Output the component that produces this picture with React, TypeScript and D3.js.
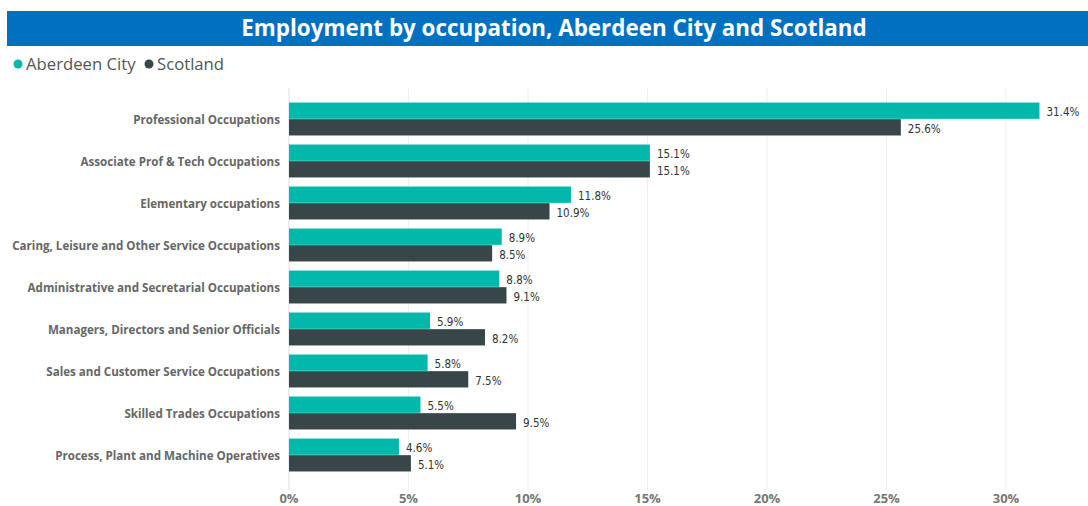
import React from "react";
import * as d3 from "d3";

const categories = [
  "Professional Occupations",
  "Associate Prof & Tech Occupations",
  "Elementary occupations",
  "Caring, Leisure and Other Service Occupations",
  "Administrative and Secretarial Occupations",
  "Managers, Directors and Senior Officials",
  "Sales and Customer Service Occupations",
  "Skilled Trades Occupations",
  "Process, Plant and Machine Operatives",
];
const aberdeen = [31.4, 15.1, 11.8, 8.9, 8.8, 5.9, 5.8, 5.5, 4.6];
const scotland = [25.6, 15.1, 10.9, 8.5, 9.1, 8.2, 7.5, 9.5, 5.1];
const seriesNames = ["Aberdeen City", "Scotland"];
const seriesColors = ["#01B8AA", "#374649"];
const xTicks = [0, 5, 10, 15, 20, 25, 30];

const W = 1088;
const H = 506;

export default function App() {
  const x = d3.scaleLinear().domain([0, 30]).range([289, 1006]);
  const y = d3.scaleBand<string>().domain(categories).range([98, 476]).paddingInner(0.2).paddingOuter(0.1);
  const sub = d3.scaleBand<string>().domain(seriesNames).range([0, y.bandwidth()]).padding(0.02);
  const series = [aberdeen, scotland];
  const labelFont = "'DejaVu Sans Condensed', 'Roboto Condensed', Roboto, sans-serif";
  return (
    <svg width={W} height={H} style={{ position: "absolute", left: 0, top: 0, background: "#fff" }}>
      <rect x={7} y={11} width={1081} height={35} fill="#0070C0" />
      <text x={554} y={36} textAnchor="middle" fill="#fff" fontFamily="'Open Sans', sans-serif" fontWeight={700} fontSize={22.4}>
        Employment by occupation, Aberdeen City and Scotland
      </text>
      {/* legend */}
      <circle cx={18} cy={64} r={4.5} fill={seriesColors[0]} />
      <text x={26} y={70} fill="#555" fontFamily="'Open Sans', sans-serif" fontSize={16.7}>Aberdeen City</text>
      <circle cx={149} cy={64} r={4.5} fill={seriesColors[1]} />
      <text x={157} y={70} fill="#555" fontFamily="'Open Sans', sans-serif" fontSize={16.7}>Scotland</text>
      {/* grid */}
      {xTicks.map((t) => (
        <g key={t}>
          <line x1={x(t)} x2={x(t)} y1={88} y2={490} stroke={t === 0 ? "#ddd" : "#eee"} strokeWidth={1} />
          <text x={x(t)} y={503} textAnchor="middle" fill="#777" fontFamily="'Open Sans', sans-serif" fontWeight={700} fontSize={13}>
            {t}%
          </text>
        </g>
      ))}
      {categories.map((c, i) => (
        <g key={c}>
          <text x={280} y={(y(c) as number) + y.bandwidth() / 2 + 5} textAnchor="end" fill="#666" fontFamily="'Open Sans', sans-serif" fontWeight={700} fontSize={11.6}>
            {c}
          </text>
          {series.map((s, k) => {
            const yy = (y(c) as number) + (sub(seriesNames[k]) as number);
            return (
              <g key={k}>
                <rect x={x(0)} y={yy} width={x(s[i]) - x(0)} height={sub.bandwidth()} fill={seriesColors[k]} />
                <text x={x(s[i]) + 7} y={yy + sub.bandwidth() / 2 + 5.5} fill="#333" fontFamily={labelFont} fontSize={11.5}>
                  {s[i].toFixed(1)}%
                </text>
              </g>
            );
          })}
        </g>
      ))}
    </svg>
  );
}
